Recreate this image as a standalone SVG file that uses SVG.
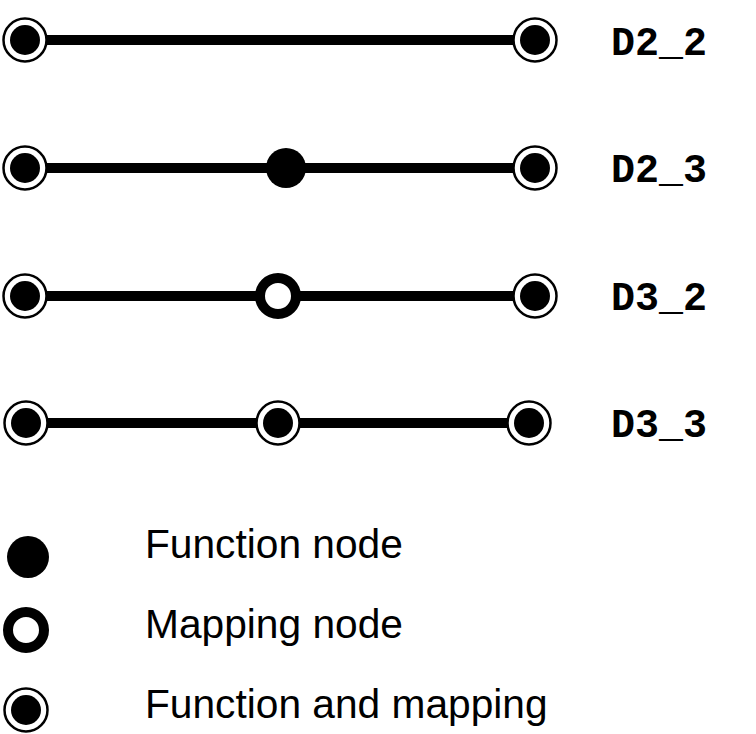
<svg xmlns="http://www.w3.org/2000/svg" width="756" height="734" viewBox="0 0 756 734">
<style>
.edge{stroke:#000;stroke-width:10;fill:none}
.fn{fill:#000}
.map{fill:#fff;stroke:#000;stroke-width:10}
.fmo{fill:#fff;stroke:#000;stroke-width:2.5}
.lbl{font-family:"Liberation Mono","Courier New",monospace;font-weight:bold;font-size:40px;fill:#000}
.leg{font-family:"Liberation Sans",Arial,Helvetica,sans-serif;font-size:40.7px;fill:#000}
</style>
<defs>
<g id="fm"><circle r="21.5" class="fmo"/><circle r="15" class="fn"/></g>
</defs>
<rect width="756" height="734" fill="#fff"/>
<g id="connectors">
<line class="edge" x1="25" y1="40" x2="535" y2="40"/>
<line class="edge" x1="25" y1="168" x2="535" y2="168"/>
<line class="edge" x1="25" y1="296" x2="535" y2="296"/>
<line class="edge" x1="26" y1="423" x2="529" y2="423"/>
</g>
<g id="D2_2">
<use href="#fm" x="25" y="40"/>
<use href="#fm" x="535" y="40"/>
<text class="lbl" x="611" y="55">D2_2</text>
</g>
<g id="D2_3">
<use href="#fm" x="25" y="168"/>
<circle class="fn" cx="286" cy="168" r="20"/>
<use href="#fm" x="535" y="168"/>
<text class="lbl" x="611" y="182">D2_3</text>
</g>
<g id="D3_2">
<use href="#fm" x="25" y="296"/>
<circle class="map" cx="278" cy="296" r="18"/>
<use href="#fm" x="535" y="296"/>
<text class="lbl" x="611" y="310">D3_2</text>
</g>
<g id="D3_3">
<use href="#fm" x="26" y="423"/>
<use href="#fm" x="278" y="423"/>
<use href="#fm" x="529" y="423"/>
<text class="lbl" x="611" y="437">D3_3</text>
</g>
<g id="legend">
<circle class="fn" cx="28" cy="557" r="21"/>
<text class="leg" x="145" y="558">Function node</text>
<circle class="map" cx="26" cy="630" r="18"/>
<text class="leg" x="145" y="638">Mapping node</text>
<use href="#fm" x="26" y="710"/>
<text class="leg" x="145" y="718">Function and mapping</text>
</g>
</svg>
